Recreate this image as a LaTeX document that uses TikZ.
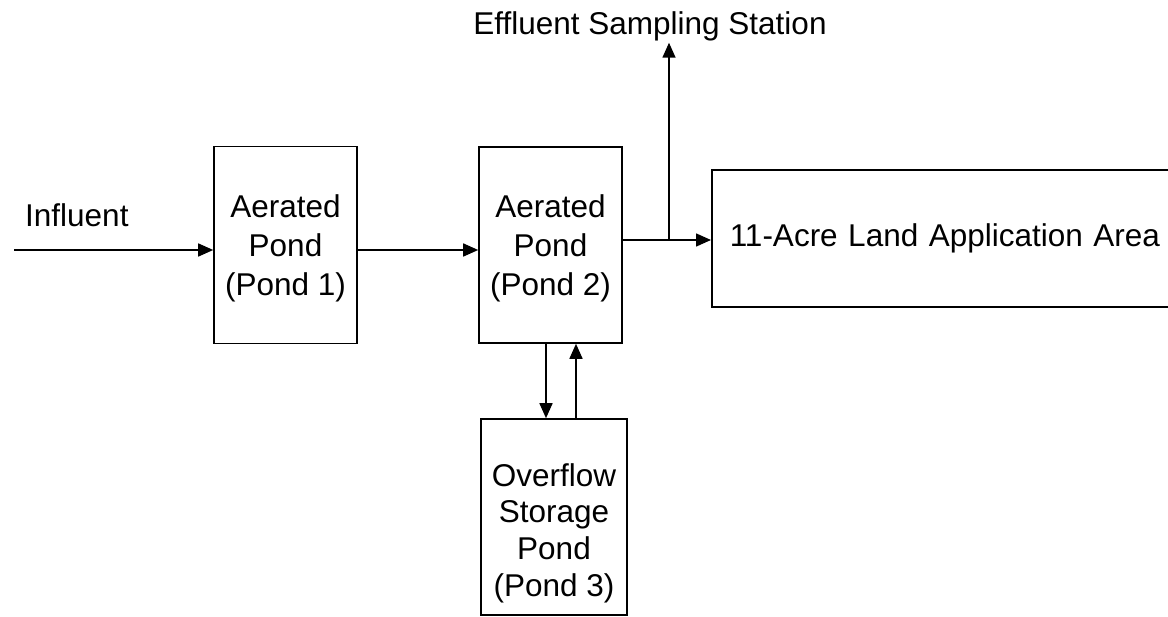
\documentclass[tikz,border=0pt]{standalone}
\usepackage{fontspec}
\setmainfont{Liberation Sans}
\usetikzlibrary{arrows.meta}
\begin{document}
\begin{tikzpicture}[x=1pt,y=-1pt,
  pondbox/.style={draw=black,line width=1.6pt,fill=none,inner sep=0pt,align=center,
    font=\fontsize{31.5}{39}\selectfont},
  lbl/.style={inner sep=0pt,font=\fontsize{31.5}{39}\selectfont},
  flow/.style={line width=1.6pt,-{Triangle[length=15pt,width=13pt]}}]
\useasboundingbox (0,0) rectangle (1168,617);
% boxes
\node[pondbox,minimum width=143pt,minimum height=197pt,text depth=0pt] (p1) at (285.5,245) {Aerated\\Pond\\(Pond 1)};
\node[pondbox,minimum width=143pt,minimum height=196pt,text depth=0pt] (p2) at (550.5,245) {Aerated\\Pond\\(Pond 2)};
\node[pondbox,minimum width=146pt,minimum height=196pt] (p3) at (554,517) {};
\node[lbl,align=center,font=\fontsize{31.5}{36.6}\selectfont] (p3t) at ([yshift=-16pt]p3.center) {Overflow\\Storage\\Pond\\(Pond 3)};
\node[pondbox,anchor=west,minimum width=540pt,minimum height=137pt,text width=504pt,inner xsep=18pt,align=left] (land) at (711,238.5) {11-Acre Land Application Area};
% labels
\node[lbl,anchor=base west] (infl) at (25,227) {Influent};
\node[lbl,anchor=base] (samp) at (650,35) {Effluent Sampling Station};
% coordinates
\coordinate (src) at (14,250);
\coordinate (j) at (669,240);
\coordinate (dn) at (546,380);
\coordinate (upc) at (576,380);
% connectors
\draw[flow] (src) -- (src -| p1.west);
\draw[flow] ([yshift=-5pt]p1.east) -- ([yshift=-5pt]p2.west);
\draw[flow] (j -| p2.east) -- (j -| land.west);
\draw[flow] (j) -- ([yshift=-1pt]j |- samp.south);
\draw[flow] (dn |- p2.south) -- (dn |- p3.north);
\draw[flow] (upc |- p3.north) -- (upc |- p2.south);
\end{tikzpicture}
\end{document}
